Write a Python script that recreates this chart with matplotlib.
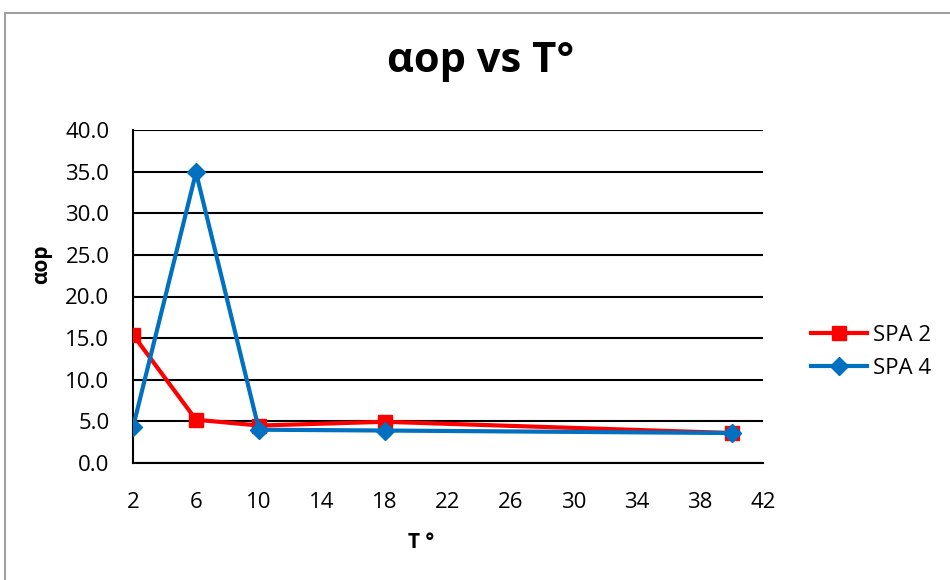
import matplotlib
matplotlib.use("Agg")
from matplotlib import pyplot as plt
from matplotlib.patches import Rectangle

temps = [2, 6, 10, 18, 40]
spa2 = [15.4, 5.2, 4.5, 4.95, 3.6]
spa4 = [4.3, 34.9, 4.0, 3.9, 3.6]
x_ticks = list(range(2, 43, 4))
y_ticks = [0, 5, 10, 15, 20, 25, 30, 35, 40]

plt.rcParams['font.family'] = ['Open Sans', 'DejaVu Sans']

fig = plt.figure(figsize=(9.5, 5.8), dpi=100)
# chart frame (only top/left edges visible in the crop)
fig.patches.append(Rectangle((5 / 950, -0.1), 1.2, 1 - 13 / 580 + 0.1,
                             transform=fig.transFigure, fill=False,
                             edgecolor='#a0a0a0', linewidth=1.5))

ax = fig.add_axes([133 / 950, 1 - 463 / 580, 630 / 950, 333 / 580])

ax.plot(temps, spa2, color='#ff0000', linewidth=3, marker='s',
        markersize=10, label='SPA 2', zorder=3)
ax.plot(temps, spa4, color='#0070c0', linewidth=3, marker='D',
        markersize=9, label='SPA 4', zorder=4)

ax.set_xlim(2, 42)
ax.set_ylim(0, 40)
ax.set_xticks(x_ticks)
ax.set_yticks(y_ticks)
ax.set_yticklabels([f"{v:.1f}" for v in y_ticks])
ax.tick_params(length=0, labelsize=16)
ax.tick_params(axis='y', pad=17)
ax.tick_params(axis='x', pad=21)
ax.yaxis.grid(True, color='black', linewidth=1.5)
ax.set_axisbelow(True)
for side in ('top', 'right'):
    ax.spines[side].set_visible(False)
for side in ('left', 'bottom'):
    ax.spines[side].set_linewidth(1.5)

ax.set_xlabel('T °', fontsize=15, fontweight='bold')
ax.set_ylabel('αop', fontsize=15, fontweight='bold')
ax.xaxis.set_label_coords((421 - 133) / 630, (463 - 532) / 333)
ax.yaxis.set_label_coords((52 - 133) / 630, (463 - 264) / 333)
fig.text(481 / 950, 1 - 62 / 580, 'αop vs T°', fontsize=30,
         fontweight='bold', ha='center', va='center')

ax.legend(loc='center left', bbox_to_anchor=(811 / 950, 1 - 352 / 580),
          bbox_transform=fig.transFigure, frameon=False, fontsize=16,
          borderpad=0, borderaxespad=0, handlelength=2.5,
          handletextpad=0.3, labelspacing=0.55)

fig.savefig('out.png', dpi=100)
